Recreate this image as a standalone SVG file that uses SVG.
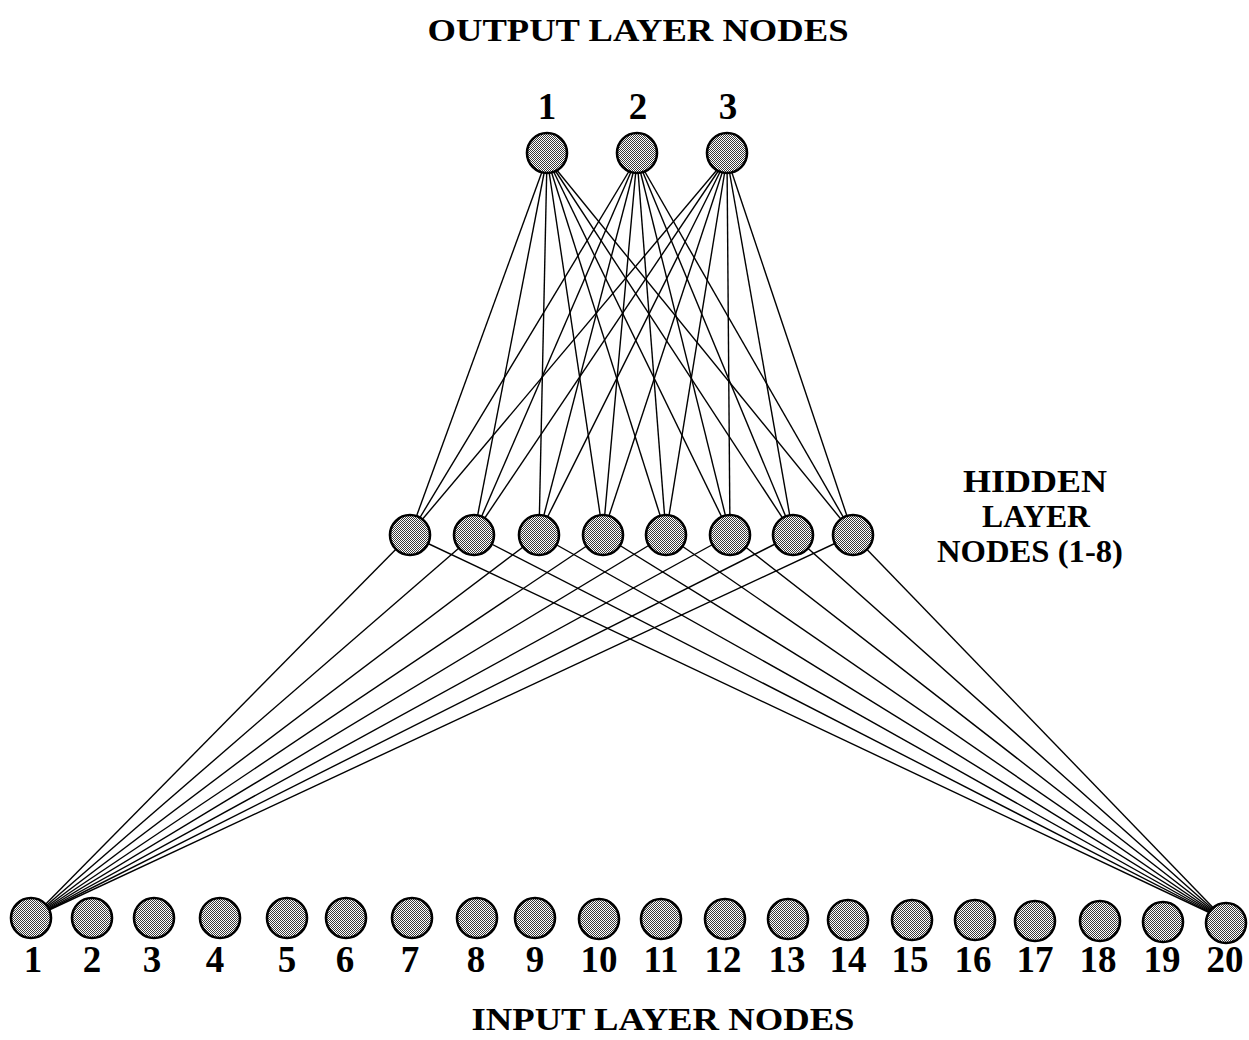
<svg xmlns="http://www.w3.org/2000/svg" width="1249" height="1040" viewBox="0 0 1249 1040">
<defs>
<pattern id="dots" width="2" height="2" patternUnits="userSpaceOnUse">
<rect width="2" height="2" fill="#ffffff"/>
<rect x="0" y="0" width="1" height="1" fill="#3a3a3a"/>
<rect x="1" y="1" width="1" height="1" fill="#3a3a3a"/>
</pattern>
</defs>
<style>
.n{fill:url(#dots);stroke:#000;stroke-width:2.6}
.c line{stroke:#000;stroke-width:1.4}
.t{font-family:"Liberation Serif",serif;font-weight:bold;fill:#000;text-anchor:middle}
.lb{font-size:37px}
.ti{font-size:32px}
</style>
<rect width="1249" height="1040" fill="#fff"/>
<g id="connectors" class="c">
<line x1="547" y1="158" x2="410" y2="534"/><line x1="547" y1="158" x2="474" y2="534"/><line x1="547" y1="158" x2="539" y2="534"/><line x1="547" y1="158" x2="603" y2="534"/><line x1="547" y1="158" x2="666" y2="534"/><line x1="547" y1="158" x2="730" y2="534"/><line x1="547" y1="158" x2="793" y2="534"/><line x1="547" y1="158" x2="853" y2="534"/>
<line x1="637" y1="158" x2="410" y2="534"/><line x1="637" y1="158" x2="474" y2="534"/><line x1="637" y1="158" x2="539" y2="534"/><line x1="637" y1="158" x2="603" y2="534"/><line x1="637" y1="158" x2="666" y2="534"/><line x1="637" y1="158" x2="730" y2="534"/><line x1="637" y1="158" x2="793" y2="534"/><line x1="637" y1="158" x2="853" y2="534"/>
<line x1="727" y1="158" x2="410" y2="534"/><line x1="727" y1="158" x2="474" y2="534"/><line x1="727" y1="158" x2="539" y2="534"/><line x1="727" y1="158" x2="603" y2="534"/><line x1="727" y1="158" x2="666" y2="534"/><line x1="727" y1="158" x2="730" y2="534"/><line x1="727" y1="158" x2="793" y2="534"/><line x1="727" y1="158" x2="853" y2="534"/>
<line x1="32" y1="918" x2="410" y2="535"/><line x1="32" y1="918" x2="474" y2="535"/><line x1="32" y1="918" x2="539" y2="535"/><line x1="32" y1="918" x2="603" y2="535"/><line x1="32" y1="918" x2="666" y2="535"/><line x1="32" y1="918" x2="730" y2="535"/><line x1="32" y1="918" x2="793" y2="535"/><line x1="32" y1="918" x2="853" y2="535"/>
<line x1="1225" y1="920" x2="410" y2="535"/><line x1="1225" y1="920" x2="474" y2="535"/><line x1="1225" y1="920" x2="539" y2="535"/><line x1="1225" y1="920" x2="603" y2="535"/><line x1="1225" y1="920" x2="666" y2="535"/><line x1="1225" y1="920" x2="730" y2="535"/><line x1="1225" y1="920" x2="793" y2="535"/><line x1="1225" y1="920" x2="853" y2="535"/>
</g>
<text class="t ti" x="638" y="41" textLength="421" lengthAdjust="spacingAndGlyphs">OUTPUT LAYER NODES</text>
<text class="t ti" x="663" y="1030" textLength="383" lengthAdjust="spacingAndGlyphs">INPUT LAYER NODES</text>
<g id="hidden-label">
<text class="t ti" x="1035" y="492" textLength="144" lengthAdjust="spacingAndGlyphs">HIDDEN</text>
<text class="t ti" x="1036" y="527" textLength="108" lengthAdjust="spacingAndGlyphs">LAYER</text>
<text class="t ti" x="1030" y="562" textLength="186" lengthAdjust="spacingAndGlyphs">NODES (1-8)</text>
</g>
<g id="out1"><circle class="n" cx="547" cy="153" r="20"/><text class="t lb" x="547" y="119">1</text></g>
<g id="out2"><circle class="n" cx="637" cy="153" r="20"/><text class="t lb" x="638" y="119">2</text></g>
<g id="out3"><circle class="n" cx="727" cy="153" r="20"/><text class="t lb" x="728" y="119">3</text></g>
<g id="hid1"><circle class="n" cx="410" cy="535" r="20"/></g>
<g id="hid2"><circle class="n" cx="474" cy="535" r="20"/></g>
<g id="hid3"><circle class="n" cx="539" cy="535" r="20"/></g>
<g id="hid4"><circle class="n" cx="603" cy="535" r="20"/></g>
<g id="hid5"><circle class="n" cx="666" cy="535" r="20"/></g>
<g id="hid6"><circle class="n" cx="730" cy="535" r="20"/></g>
<g id="hid7"><circle class="n" cx="793" cy="535" r="20"/></g>
<g id="hid8"><circle class="n" cx="853" cy="535" r="20"/></g>
<g id="in1"><circle class="n" cx="31" cy="918" r="20"/><text class="t lb" x="33" y="972">1</text></g>
<g id="in2"><circle class="n" cx="92" cy="918" r="20"/><text class="t lb" x="92" y="972">2</text></g>
<g id="in3"><circle class="n" cx="154" cy="918" r="20"/><text class="t lb" x="152" y="972">3</text></g>
<g id="in4"><circle class="n" cx="220" cy="918" r="20"/><text class="t lb" x="215" y="972">4</text></g>
<g id="in5"><circle class="n" cx="287" cy="918" r="20"/><text class="t lb" x="287" y="972">5</text></g>
<g id="in6"><circle class="n" cx="346" cy="918" r="20"/><text class="t lb" x="345" y="972">6</text></g>
<g id="in7"><circle class="n" cx="412" cy="918" r="20"/><text class="t lb" x="410" y="972">7</text></g>
<g id="in8"><circle class="n" cx="477" cy="918" r="20"/><text class="t lb" x="476" y="972">8</text></g>
<g id="in9"><circle class="n" cx="535" cy="918" r="20"/><text class="t lb" x="535" y="972">9</text></g>
<g id="in10"><circle class="n" cx="599" cy="919" r="20"/><text class="t lb" x="599" y="972">10</text></g>
<g id="in11"><circle class="n" cx="661" cy="919" r="20"/><text class="t lb" x="661" y="972">11</text></g>
<g id="in12"><circle class="n" cx="725" cy="919" r="20"/><text class="t lb" x="723" y="972">12</text></g>
<g id="in13"><circle class="n" cx="788" cy="919" r="20"/><text class="t lb" x="787" y="972">13</text></g>
<g id="in14"><circle class="n" cx="848" cy="920" r="20"/><text class="t lb" x="848" y="972">14</text></g>
<g id="in15"><circle class="n" cx="912" cy="920" r="20"/><text class="t lb" x="910" y="972">15</text></g>
<g id="in16"><circle class="n" cx="975" cy="920" r="20"/><text class="t lb" x="973" y="972">16</text></g>
<g id="in17"><circle class="n" cx="1035" cy="921" r="20"/><text class="t lb" x="1035" y="972">17</text></g>
<g id="in18"><circle class="n" cx="1100" cy="921" r="20"/><text class="t lb" x="1098" y="972">18</text></g>
<g id="in19"><circle class="n" cx="1163" cy="922" r="20"/><text class="t lb" x="1162" y="972">19</text></g>
<g id="in20"><circle class="n" cx="1226" cy="923" r="20"/><text class="t lb" x="1225" y="972">20</text></g>
</svg>
